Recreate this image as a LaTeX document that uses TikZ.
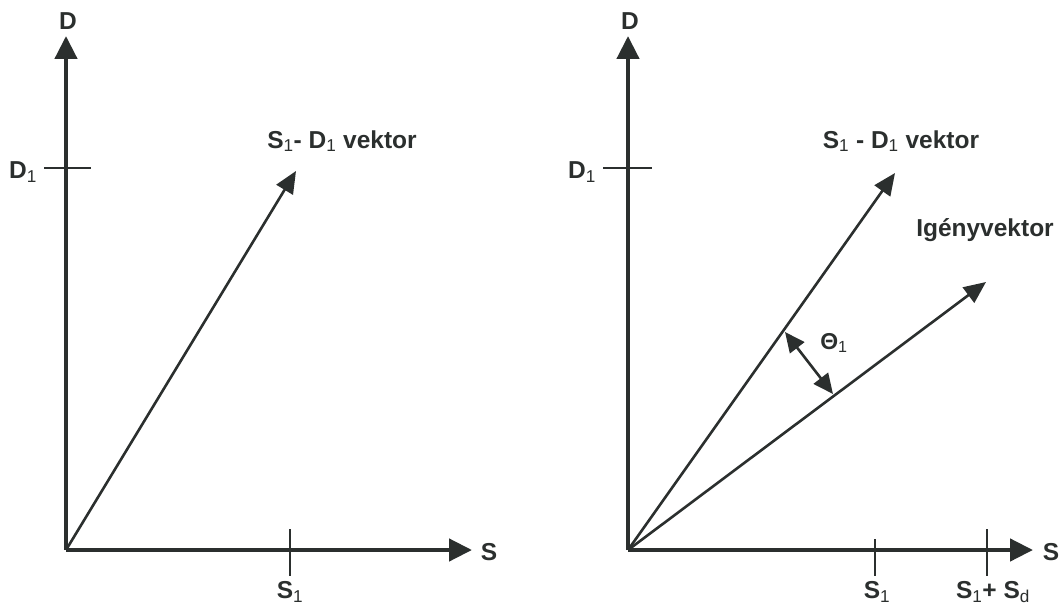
\documentclass[tikz,border=0pt]{standalone}
\usepackage{fontspec}
\setmainfont{Liberation Sans}
\usetikzlibrary{arrows.meta}
\definecolor{ink}{HTML}{2B2F2E}
\tikzset{
  axis/.style={line width=4.5pt, draw=ink, -{Triangle[length=23pt,width=22pt]}},
  vec/.style={line width=2.6pt, draw=ink, -{Triangle[length=22pt,width=19pt]}},
  tick/.style={line width=2.2pt, draw=ink},
  lbl/.style={font=\bfseries\fontsize{24.5}{28}\selectfont, text=ink, inner sep=0pt},
  dbl/.style={line width=2.6pt, draw=ink, {Triangle[length=20pt,width=18pt]}-{Triangle[length=20pt,width=18pt]}}
}
\newcommand{\sub}[1]{\textsubscript{\mdseries #1}}
\begin{document}
\begin{tikzpicture}[x=1pt,y=-1pt]
\useasboundingbox (0,0) rectangle (1059,607);
% ---------- left diagram
\coordinate (O1) at (66,550);
\coordinate (Dt1) at (66,36);
\coordinate (St1) at (472,550);
\draw[axis] (O1) -- (Dt1);
\draw[axis] (O1) -- (St1);
\node[lbl] (D1lab) at (68,21) {D};
\node[lbl] (S1ax) at (489,552) {S};
\coordinate (d1a) at (44,168); \coordinate (d1b) at (91,168);
\draw[tick] (d1a) -- (d1b);
\node[lbl, anchor=west] (D1tick) at (9,172) {D\sub{1}};
\coordinate (s1a) at (290,529); \coordinate (s1b) at (290,576);
\draw[tick] (s1a) -- (s1b);
\node[lbl] (S1tick) at (290,592) {S\sub{1}};
\coordinate (v1) at (296,171);
\draw[vec] (O1) -- (v1);
\node[lbl] (v1lab) at (342,141) {S\sub{1}- D\sub{1} vektor};
% ---------- right diagram
\coordinate (O2) at (628,550);
\coordinate (Dt2) at (628,36);
\coordinate (St2) at (1033,550);
\draw[axis] (O2) -- (Dt2);
\draw[axis] (O2) -- (St2);
\node[lbl] (D2lab) at (630,21) {D};
\node[lbl] (S2ax) at (1051,552) {S};
\coordinate (d2a) at (603,168); \coordinate (d2b) at (652,168);
\draw[tick] (d2a) -- (d2b);
\node[lbl, anchor=west] (D2tick) at (568,172) {D\sub{1}};
\coordinate (s2a) at (875,539); \coordinate (s2b) at (875,576);
\draw[tick] (s2a) -- (s2b);
\node[lbl] (S2tick) at (877,592) {S\sub{1}};
\coordinate (s3a) at (987,529); \coordinate (s3b) at (987,576);
\draw[tick] (s3a) -- (s3b);
\node[lbl] (S3tick) at (993,592) {S\sub{1}+ S\sub{d}};
\coordinate (v2) at (895,173);
\draw[vec] (O2) -- (v2);
\node[lbl] (v2lab) at (901,141) {S\sub{1} - D\sub{1} vektor};
\coordinate (v3) at (986,282);
\draw[vec] (O2) -- (v3);
\node[lbl] (v3lab) at (985,230) {Igényvektor};
\coordinate (ta) at (785,332);
\coordinate (tb) at (833,394);
\draw[dbl] (ta) -- (tb);
\node[lbl, font=\bfseries\fontsize{23}{26}\selectfont] (theta) at (834,343) {Θ\sub{1}};
\end{tikzpicture}
\end{document}
